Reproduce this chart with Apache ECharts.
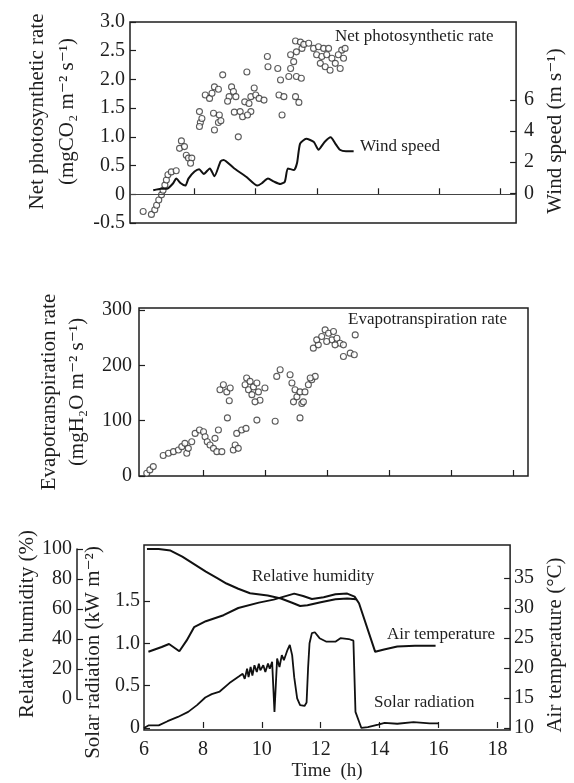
<!DOCTYPE html>
<html>
<head>
<meta charset="utf-8">
<script src="https://cdn.jsdelivr.net/npm/echarts@6/dist/echarts.min.js"></script>
<style>
html,body{margin:0;padding:0;background:#fff}
#main{width:574px;height:783px}
</style>
</head>
<body>
<div id="main"></div>
<script>
// panel 1: net photosynthetic rate (scatter) and wind speed (line)
var photoTime = [6.32,6.59,6.70,6.76,6.83,6.92,6.97,7.03,7.08,7.13,7.24,7.40,7.57,7.51,7.67,7.73,7.80,7.91,7.87,
    8.19,8.16,8.24,8.16,8.35,8.49,8.57,8.65,8.78,8.62,8.81,8.78,8.65,8.92,8.86,9.13,9.21,9.27,9.08,9.35,9.30,
    9.49,9.57,9.43,9.71,9.64,9.84,9.78,9.95,10.00,9.84,9.73,10.11,10.27,10.38,10.40,10.72,10.81,10.76,10.92,10.86,
    11.14,11.24,11.30,11.46,11.51,11.57,11.14,11.08,11.33,11.49,11.30,11.41,11.33,11.73,11.89,12.05,12.22,12.38,
    11.99,12.16,12.32,12.49,12.81,12.70,12.87,12.11,12.27,12.43,12.60,12.76,12.92];
var photoRate = [-0.30,-0.35,-0.27,-0.19,-0.10,-0.01,0.07,0.16,0.25,0.34,0.39,0.41,0.93,0.80,0.83,0.68,0.63,0.63,0.54,
    1.25,1.44,1.32,1.18,1.73,1.67,1.76,1.87,1.83,1.41,1.38,1.25,1.12,2.08,1.28,1.70,1.87,1.79,1.62,1.70,1.43,
    1.44,1.35,1.00,2.13,1.61,1.70,1.58,1.85,1.73,1.44,1.38,1.67,1.64,2.40,2.22,2.19,1.99,1.73,1.70,1.38,
    2.43,2.31,2.67,2.65,2.54,2.61,2.19,2.05,2.05,2.02,1.70,1.60,2.48,2.63,2.54,2.57,2.54,2.54,
    2.43,2.40,2.43,2.37,2.51,2.43,2.37,2.28,2.22,2.16,2.28,2.19,2.54];
var windTime = [6.65,6.9,7.1,7.3,7.4,7.55,7.7,7.8,8.0,8.15,8.3,8.5,8.65,8.85,8.95,9.3,9.7,10.05,10.2,10.4,10.6,10.8,
    10.95,11.05,11.25,11.35,11.45,11.65,11.9,12.05,12.25,12.45,12.6,12.75,12.95,13.2];
var windSpeed = [0.2,0.3,0.3,0.65,0.95,0.65,0.5,0.95,1.4,1.55,1.25,1.6,1.1,2.05,2.15,1.6,1.05,0.5,0.65,0.95,0.75,0.6,
    0.75,1.6,1.5,1.95,3.2,3.5,3.3,2.8,3.3,3.6,3.2,2.8,2.7,2.7];

// panel 2: evapotranspiration rate
var evapTime = [6.17,6.27,6.38,6.70,6.87,7.03,7.19,7.30,7.40,7.46,7.51,7.62,7.73,7.87,8.00,8.05,8.12,8.21,8.32,8.43,
    8.59,8.37,8.48,8.53,8.64,8.75,8.86,8.83,8.77,8.96,9.02,9.12,9.07,9.23,9.37,9.39,9.34,9.50,9.45,9.61,
    9.56,9.72,9.77,9.82,9.66,9.98,9.72,10.31,10.36,10.47,10.79,10.85,10.95,10.90,11.01,11.11,11.17,11.11,11.22,11.27,
    11.38,11.49,11.60,11.44,11.54,11.70,11.65,11.81,11.92,12.03,12.19,12.14,12.30,12.40,12.51,12.89,12.73,12.51,12.86,11.97,12.24];
var evapRate = [5,11,17,37,41,44,47,53,59,41,50,62,77,83,80,71,62,56,50,44,
    44,68,83,156,165,152,159,136,105,47,56,50,77,83,86,177,165,171,156,161,
    147,168,152,137,134,159,101,99,180,192,183,168,156,134,143,152,131,105,134,152,
    165,174,180,177,231,237,246,252,264,258,261,246,249,240,237,255,222,216,219,243,237];

// panel 3: relative humidity, air temperature, solar radiation
var rhTime = [6.1,6.5,6.9,7.3,7.7,8.1,8.5,8.8,9.2,9.6,10.2,10.65,11.05,11.3,11.55,12.0,12.5,12.9,13.2];
var rhValue = [100,100,99,95,90,85,80.5,77,73.5,70.5,69,67,64,62,62.5,64.5,66.5,67,66.5];
var tempTime = [6.15,6.6,6.85,7.2,7.45,7.7,8.1,8.7,9.2,9.9,10.4,11.1,11.4,11.7,12.1,12.5,12.9,13.15,13.3,13.85,14.15,14.6,15.2,15.9];
var tempValue = [22.7,23.5,24.0,22.8,24.6,26.8,27.8,28.8,30.0,30.9,31.4,32.4,32.0,31.5,31.8,32.3,32.4,31.9,30.8,22.7,23.1,23.6,23.7,23.7];
var solarTime = [6.0,6.15,6.5,6.8,7.15,7.5,7.8,8.08,8.3,8.57,8.9,9.23,9.35,9.42,9.5,9.55,9.62,9.68,9.75,9.83,9.9,9.95,
    10.05,10.12,10.21,10.27,10.35,10.43,10.52,10.6,10.68,10.75,10.87,10.95,11.03,11.1,11.2,11.3,11.45,11.52,11.57,11.62,
    11.7,11.8,11.96,12.18,12.51,12.67,12.95,13.11,13.18,13.38,13.6,13.95,14.17,14.6,15.15,15.7,16.0];
var solarValue = [0,0.03,0.03,0.08,0.13,0.19,0.27,0.36,0.40,0.43,0.53,0.61,0.64,0.58,0.70,0.60,0.72,0.62,0.74,0.66,0.76,0.68,
    0.74,0.66,0.76,0.70,0.78,0.19,0.82,0.72,0.86,0.80,0.92,0.98,0.86,0.60,0.35,0.27,0.26,0.30,0.70,1.00,
    1.12,1.13,1.06,1.02,1.02,1.06,1.05,1.03,0.19,0,0.01,0.04,0.06,0.05,0.07,0.055,0.055];

var xTicks = [8,10,12,14,16,18];
var xLabels = [6,8,10,12,14,16,18];
var windTicks = [0,2,4,6];
var solarTicks = [0,0.5,1.0,1.5];
var tempTicks = [10,15,20,25,30,35];

function pairs(xs, ys){
    return xs.map(function(x, i){ return [x, ys[i]]; });
}
function decimal(v){
    return v === 0 ? '0' : v.toFixed(1);
}
function ext(a, b){
    return Object.assign({}, b, a);
}

var SERIF = '"Liberation Serif","DejaVu Serif",serif';
var INK = '#1e1e1e';
var myChart = echarts.init(document.getElementById('main'));

var labelStyle = {color: INK, fontFamily: SERIF, fontSize: 20};
var nameStyle = {color: INK, fontFamily: SERIF, fontSize: 21};
var noteFont = '17px ' + SERIF;
var tick = {show: true, inside: true, length: 6, lineStyle: {color: INK, width: 1.2}};
var gridBox = {show: true, borderColor: INK, borderWidth: 1.5, backgroundColor: 'transparent'};

var option = {
    backgroundColor: '#fff',
    animation: false,
    grid: [
        ext({left: 130, top: 22, width: 389, height: 201}, gridBox),
        ext({left: 139, top: 308, width: 389, height: 168}, gridBox),
        ext({left: 144, top: 545, width: 379, height: 185}, gridBox),
        {left: 77, top: 549, width: 1, height: 150, show: false}
    ],
    xAxis: [
        {type: 'value', gridIndex: 0, min: 5.89, max: 18.51, axisLine: {show: false}, splitLine: {show: false},
            axisLabel: {show: false}, axisTick: ext({customValues: xTicks}, tick)},
        {type: 'value', gridIndex: 1, min: 5.92, max: 18.46, axisLine: {show: false}, splitLine: {show: false},
            axisLabel: {show: false}, axisTick: ext({customValues: xTicks}, tick)},
        {type: 'value', gridIndex: 2, min: 6, max: 18.43, axisLine: {show: false}, splitLine: {show: false},
            axisTick: ext({customValues: xTicks}, tick),
            axisLabel: ext({customValues: xLabels, margin: 10}, labelStyle),
            name: 'Time  (h)', nameLocation: 'middle', nameGap: 32, nameTextStyle: ext({fontSize: 19}, nameStyle)},
        {type: 'value', gridIndex: 3, min: 0, max: 1, show: false}
    ],
    yAxis: [
        {type: 'value', gridIndex: 0, position: 'left', min: -0.5, max: 3.0, interval: 0.5,
            axisLine: {show: false}, splitLine: {show: false}, axisTick: tick,
            axisLabel: ext({formatter: decimal, margin: 5}, labelStyle),
            name: 'Net photosynthetic rate\n(mgCO\u2082 m\u207B\u00B2 s\u207B\u00B9)', nameLocation: 'middle', nameRotate: 90, nameGap: 43,
            nameTextStyle: ext({lineHeight: 30, padding: [0, 0, 0, 22]}, nameStyle)},
        {type: 'value', gridIndex: 0, position: 'right', min: -1.9, max: 11.0,
            axisLine: {show: false}, splitLine: {show: false},
            axisTick: ext({customValues: windTicks}, tick),
            axisLabel: ext({customValues: windTicks, margin: 8}, labelStyle),
            name: 'Wind speed (m s\u207B\u00B9)', nameLocation: 'middle', nameRotate: 90, nameGap: 18,
            nameTextStyle: ext({lineHeight: 21, padding: [0, 17, 0, 0]}, nameStyle)},
        {type: 'value', gridIndex: 1, position: 'left', min: 0, max: 303.6, interval: 100,
            axisLine: {show: false}, splitLine: {show: false}, axisTick: tick,
            axisLabel: ext({margin: 7}, labelStyle),
            name: 'Evapotranspiration rate\n(mgH\u2082O m\u207B\u00B2 s\u207B\u00B9)', nameLocation: 'middle', nameRotate: 90, nameGap: 48,
            nameTextStyle: ext({lineHeight: 28}, nameStyle)},
        {type: 'value', gridIndex: 2, position: 'left', min: -0.024, max: 2.16,
            axisLine: {show: false}, splitLine: {show: false},
            axisTick: ext({customValues: solarTicks}, tick),
            axisLabel: ext({customValues: solarTicks, formatter: decimal, margin: 4}, labelStyle),
            name: 'Solar radiation (kW m\u207B\u00B2)', nameLocation: 'middle', nameRotate: 90, nameGap: 33,
            nameTextStyle: ext({lineHeight: 21, padding: [0, 30, 0, 0]}, nameStyle)},
        {type: 'value', gridIndex: 2, position: 'right', min: 9.67, max: 40.5,
            axisLine: {show: false}, splitLine: {show: false},
            axisTick: ext({customValues: tempTicks}, tick),
            axisLabel: ext({customValues: tempTicks, margin: 4}, labelStyle),
            name: 'Air temperature (\u00B0C)', nameLocation: 'middle', nameRotate: 90, nameGap: 32,
            nameTextStyle: ext({lineHeight: 21, padding: [0, 15, 0, 0]}, nameStyle)},
        {type: 'value', gridIndex: 2, min: -20.7, max: 102.7, show: false},
        {type: 'value', gridIndex: 3, position: 'left', min: 0, max: 100, interval: 20,
            axisLine: {show: true, lineStyle: {color: INK, width: 1.5}}, splitLine: {show: false},
            axisTick: tick,
            axisLabel: ext({margin: 5}, labelStyle),
            name: 'Relative humidity (%)', nameLocation: 'middle', nameRotate: 90, nameGap: 38,
            nameTextStyle: ext({lineHeight: 21}, nameStyle)}
    ],
    graphic: [
        {type: 'text', style: {x: 335, y: 37, text: 'Net photosynthetic rate', fill: INK, font: noteFont, verticalAlign: 'middle'}},
        {type: 'text', style: {x: 360, y: 147, text: 'Wind speed', fill: INK, font: noteFont, verticalAlign: 'middle'}},
        {type: 'text', style: {x: 348, y: 320, text: 'Evapotranspiration rate', fill: INK, font: noteFont, verticalAlign: 'middle'}},
        {type: 'text', style: {x: 252, y: 577, text: 'Relative humidity', fill: INK, font: noteFont, verticalAlign: 'middle'}},
        {type: 'text', style: {x: 387, y: 635, text: 'Air temperature', fill: INK, font: noteFont, verticalAlign: 'middle'}},
        {type: 'text', style: {x: 374, y: 703, text: 'Solar radiation', fill: INK, font: noteFont, verticalAlign: 'middle'}}
    ],
    series: [
        {
            name: 'Net photosynthetic rate', type: 'scatter', xAxisIndex: 0, yAxisIndex: 0,
            data: pairs(photoTime, photoRate), symbol: 'circle', symbolSize: 6,
            itemStyle: {color: '#fff', borderColor: '#333', borderWidth: 1.1},
            markLine: {silent: true, symbol: 'none', label: {show: false},
                lineStyle: {color: '#444', width: 1, type: 'solid'}, data: [{yAxis: 0}]}
        },
        {
            name: 'Wind speed', type: 'line', xAxisIndex: 0, yAxisIndex: 1,
            data: pairs(windTime, windSpeed), showSymbol: false, smooth: 0.2,
            lineStyle: {color: '#111', width: 2}
        },
        {
            name: 'Evapotranspiration rate', type: 'scatter', xAxisIndex: 1, yAxisIndex: 2,
            data: pairs(evapTime, evapRate), symbol: 'circle', symbolSize: 6,
            itemStyle: {color: '#fff', borderColor: '#333', borderWidth: 1.1}
        },
        {
            name: 'Relative humidity', type: 'line', xAxisIndex: 2, yAxisIndex: 5,
            data: pairs(rhTime, rhValue), showSymbol: false,
            lineStyle: {color: '#111', width: 2}
        },
        {
            name: 'Air temperature', type: 'line', xAxisIndex: 2, yAxisIndex: 4,
            data: pairs(tempTime, tempValue), showSymbol: false,
            lineStyle: {color: '#111', width: 2}
        },
        {
            name: 'Solar radiation', type: 'line', xAxisIndex: 2, yAxisIndex: 3,
            data: pairs(solarTime, solarValue), showSymbol: false,
            lineStyle: {color: '#111', width: 1.8}
        }
    ]
};
myChart.setOption(option);
</script>
</body>
</html>
